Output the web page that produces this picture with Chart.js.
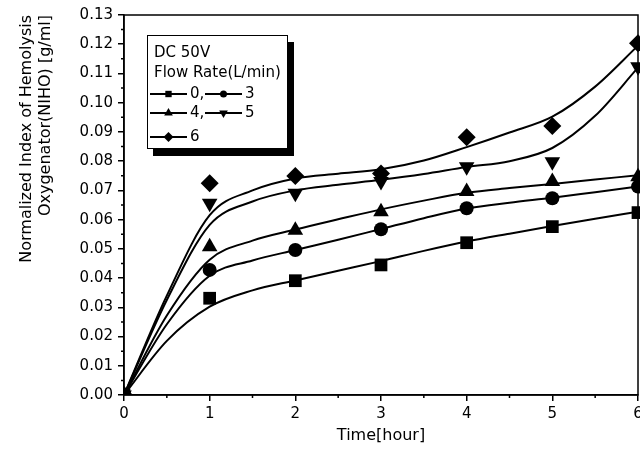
<!DOCTYPE html>
<html>
<head>
<meta charset="utf-8">
<script src="https://cdn.jsdelivr.net/npm/chart.js@4.4.0/dist/chart.umd.min.js"></script>
<style>
    body { margin: 0; background: #fff; }
    #wrap { width: 640px; height: 450px; }
</style>
</head>
<body>
<div id="wrap"><canvas id="nihoChart" width="640" height="450"></canvas></div>
<script>
// measured points (markers)
const hours = [0, 1, 2, 3, 4, 5, 6];
const rate0 = [0, 0.0331, 0.0391, 0.0445, 0.0521, 0.0576, 0.0624];
const rate3 = [0, 0.0428, 0.0496, 0.0567, 0.0639, 0.0673, 0.0713];
const rate4 = [0, 0.0507, 0.0564, 0.0627, 0.0696, 0.0730, 0.0747];
const rate5 = [0, 0.0656, 0.0690, 0.0730, 0.0781, 0.0798, 0.1123];
const rate6 = [0, 0.0724, 0.0749, 0.0758, 0.0882, 0.0920, 0.1203];

// fitted curves
const fitHours = [0, 0.5, 1, 1.5, 2, 2.5, 3, 3.5, 4, 4.5, 5, 5.5, 6];
const fit0 = [0, 0.0185, 0.0302, 0.0358, 0.0392, 0.0425, 0.0458, 0.0493, 0.0525, 0.0552, 0.0578, 0.0603, 0.0627];
const fit3 = [0, 0.0242, 0.0408, 0.0460, 0.0496, 0.0531, 0.0568, 0.0605, 0.0638, 0.0658, 0.0675, 0.0694, 0.0713];
const fit4 = [0, 0.0272, 0.0463, 0.0528, 0.0566, 0.0601, 0.0635, 0.0665, 0.0692, 0.0708, 0.0722, 0.0737, 0.0752];
const fit5 = [0, 0.0325, 0.0582, 0.0662, 0.0700, 0.0719, 0.0736, 0.0756, 0.0780, 0.0800, 0.0845, 0.0955, 0.1120];
const fit6 = [0, 0.0340, 0.0615, 0.0700, 0.0741, 0.0757, 0.0772, 0.0802, 0.0848, 0.0898, 0.0952, 0.1055, 0.1195];

const flowRates = ['0', '3', '4', '5', '6'];

const series = [
    { values: rate0, fit: fit0, style: 'rect', rotation: 0, radius: 9 },
    { values: rate3, fit: fit3, style: 'circle', rotation: 0, radius: 7 },
    { values: rate4, fit: fit4, style: 'triangle', rotation: 0, radius: 9 },
    { values: rate5, fit: fit5, style: 'triangle', rotation: 180, radius: 9 },
    { values: rate6, fit: fit6, style: 'rectRot', rotation: 0, radius: 9 }
];

function toPoints(xs, ys) {
    return xs.map((x, i) => ({ x: x, y: ys[i] }));
}

const datasets = [];
series.forEach((s, i) => {
    datasets.push({
        label: 'fit ' + flowRates[i],
        data: toPoints(fitHours, s.fit),
        showLine: true,
        borderColor: '#000',
        borderWidth: 2,
        pointRadius: 0,
        cubicInterpolationMode: 'monotone',
        fill: false
    });
    datasets.push({
        label: flowRates[i],
        data: toPoints(hours, s.values),
        showLine: false,
        pointStyle: s.style,
        pointRotation: s.rotation,
        pointRadius: s.radius,
        backgroundColor: '#000',
        borderColor: '#000',
        borderWidth: 0,
        clip: { left: 0, top: 20, right: 3, bottom: 0 }
    });
});

function drawEntry(ctx, x0, y, style, rotation, r, text) {
    ctx.strokeStyle = '#000';
    ctx.lineWidth = 2;
    ctx.beginPath();
    ctx.moveTo(x0, y);
    ctx.lineTo(x0 + 37, y);
    ctx.stroke();
    ctx.fillStyle = '#000';
    Chart.helpers.drawPoint(ctx, { pointStyle: style, rotation: rotation, radius: r, borderWidth: 0 }, x0 + 18.5, y);
    ctx.fillText(text, x0 + 40, y);
}

const extras = {
    id: 'extras',
    afterDraw(chart) {
        const ctx = chart.ctx;
        const area = chart.chartArea;
        const xs = chart.scales.x;
        const ys = chart.scales.y;
        ctx.save();
        ctx.strokeStyle = '#000';
        ctx.lineWidth = 1.5;
        // frame
        ctx.strokeRect(area.left, area.top, area.right - area.left, area.bottom - area.top);
        // minor ticks
        ctx.beginPath();
        for (let v = 0.005; v < 0.13; v += 0.01) {
            const py = ys.getPixelForValue(v);
            ctx.moveTo(area.left - 3, py);
            ctx.lineTo(area.left, py);
        }
        for (let v = 0.5; v < 6; v += 1) {
            const px = xs.getPixelForValue(v);
            ctx.moveTo(px, area.bottom);
            ctx.lineTo(px, area.bottom + 3);
        }
        ctx.stroke();

        // legend box
        const bx = area.left + 23;
        const by = area.top + 20;
        ctx.fillStyle = '#000';
        ctx.fillRect(bx + 6, by + 7, 141, 114);
        ctx.fillStyle = '#fff';
        ctx.fillRect(bx, by, 140, 113);
        ctx.lineWidth = 1;
        ctx.strokeRect(bx + 0.5, by + 0.5, 140, 113);

        ctx.fillStyle = '#000';
        ctx.font = '15px "DejaVu Sans"';
        ctx.textBaseline = 'middle';
        ctx.textAlign = 'left';
        ctx.fillText('DC 50V', bx + 7, by + 18);
        ctx.fillText('Flow Rate(L/min)', bx + 7, by + 38);
        drawEntry(ctx, bx + 3, by + 59, 'rect', 0, 4.5, flowRates[0] + ',');
        drawEntry(ctx, bx + 58, by + 59, 'circle', 0, 3.5, flowRates[1]);
        drawEntry(ctx, bx + 3, by + 78, 'triangle', 0, 5, flowRates[2] + ',');
        drawEntry(ctx, bx + 58, by + 78, 'triangle', 180, 5, flowRates[3]);
        drawEntry(ctx, bx + 3, by + 102, 'rectRot', 0, 5, flowRates[4]);
        ctx.restore();
    }
};

Chart.defaults.font.family = '"DejaVu Sans", sans-serif';
Chart.defaults.font.size = 15;
Chart.defaults.color = '#000';

const ctx = document.getElementById('nihoChart').getContext('2d');
const nihoChart = new Chart(ctx, {
    type: 'scatter',
    data: { datasets: datasets },
    options: {
        responsive: false,
        animation: false,
        layout: { autoPadding: false, padding: { left: 0, right: 2, top: 15, bottom: 0 } },
        plugins: {
            legend: { display: false },
            tooltip: { enabled: false }
        },
        scales: {
            x: {
                type: 'linear',
                min: 0,
                max: 6,
                ticks: { stepSize: 1, padding: 4, maxRotation: 0 },
                grid: { drawOnChartArea: false, drawTicks: true, tickLength: 6, color: '#000', lineWidth: 1.5 },
                border: { color: '#000', width: 1.5 },
                title: { display: true, text: 'Time[hour]', font: { size: 16 }, padding: { top: 0, bottom: 5 } },
                afterFit(scale) {
                    scale.height = 55;
                    scale.paddingRight = 0;
                    scale.paddingLeft = 0;
                }
            },
            y: {
                type: 'linear',
                min: 0,
                max: 0.13,
                ticks: { stepSize: 0.01, padding: 5, callback: v => v.toFixed(2) },
                grid: { drawOnChartArea: false, drawTicks: true, tickLength: 6, color: '#000', lineWidth: 1.5 },
                border: { color: '#000', width: 1.5 },
                title: {
                    display: true,
                    text: ['Normalized Index of Hemolysis', 'Oxygenator(NIHO) [g/ml]'],
                    align: 'end',
                    font: { size: 16 },
                    padding: { top: 17, bottom: 0 }
                },
                afterFit(scale) {
                    scale.width = 124;
                }
            }
        }
    },
    plugins: [extras]
});
</script>
</body>
</html>
